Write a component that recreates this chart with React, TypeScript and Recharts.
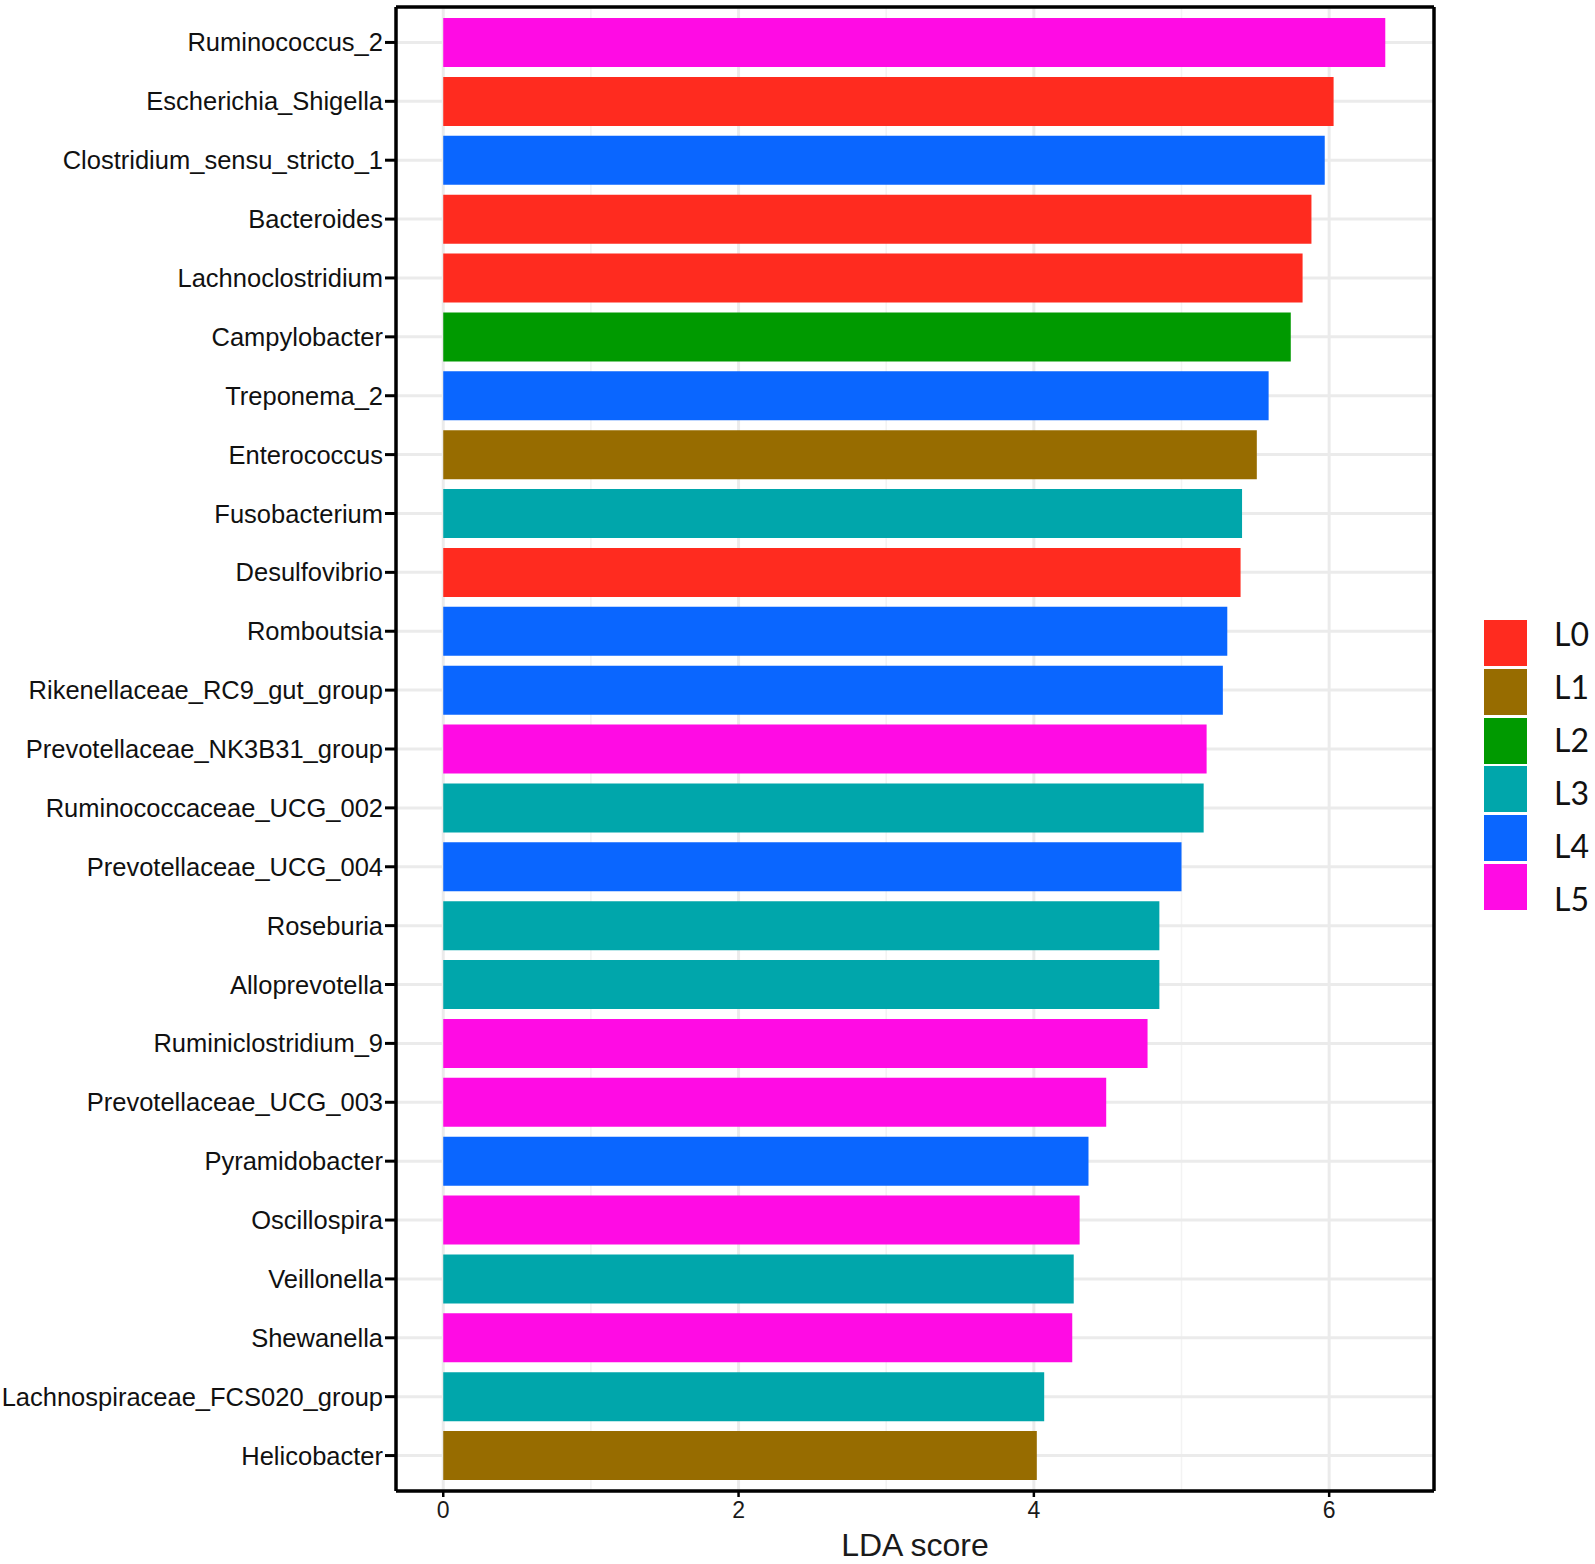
import * as React from 'react';
import { BarChart, Bar, Cell, XAxis, YAxis, CartesianGrid, Legend } from 'recharts';

const genera = [
  'Ruminococcus_2', 'Escherichia_Shigella', 'Clostridium_sensu_stricto_1', 'Bacteroides',
  'Lachnoclostridium', 'Campylobacter', 'Treponema_2', 'Enterococcus', 'Fusobacterium',
  'Desulfovibrio', 'Romboutsia', 'Rikenellaceae_RC9_gut_group', 'Prevotellaceae_NK3B31_group',
  'Ruminococcaceae_UCG_002', 'Prevotellaceae_UCG_004', 'Roseburia', 'Alloprevotella',
  'Ruminiclostridium_9', 'Prevotellaceae_UCG_003', 'Pyramidobacter', 'Oscillospira',
  'Veillonella', 'Shewanella', 'Lachnospiraceae_FCS020_group', 'Helicobacter',
];
const ldaScores = [
  6.38, 6.03, 5.97, 5.88, 5.82, 5.74, 5.59, 5.51, 5.41, 5.40, 5.31, 5.28, 5.17,
  5.15, 5.00, 4.85, 4.85, 4.77, 4.49, 4.37, 4.31, 4.27, 4.26, 4.07, 4.02,
];
const groups = [
  'L5', 'L0', 'L4', 'L0', 'L0', 'L2', 'L4', 'L1', 'L3', 'L0', 'L4', 'L4', 'L5',
  'L3', 'L4', 'L3', 'L3', 'L5', 'L5', 'L4', 'L5', 'L3', 'L5', 'L3', 'L1',
];
const levels = ['L0', 'L1', 'L2', 'L3', 'L4', 'L5'];
const levelColors = ['#FF2B1F', '#976C00', '#009A00', '#00A6AB', '#0A66FF', '#FF0BE4'];
const majorTicks = [0, 2, 4, 6];
const minorTicks = [1, 3, 5];

const colorOf = (g: string) => levelColors[levels.indexOf(g)];

const data = genera.map((name, i) => ({ name, lda: ldaScores[i], group: groups[i] }));

const axisFont = '"Liberation Sans", Arial, sans-serif';

// keys and labels drift apart slightly in the original, so place them separately
const LevelLegend = () => (
  <div style={{ position: 'relative', marginLeft: 49, height: 300, fontFamily: 'Lato, "Open Sans", sans-serif' }}>
    {levels.map((lv, i) => (
      <React.Fragment key={lv}>
        <div
          style={{
            position: 'absolute', left: 0, top: 48.8 * i, width: 43, height: 46, background: levelColors[i],
          }}
        />
        <span
          style={{
            position: 'absolute', left: 70, top: 53 * i - 6, fontSize: 32, lineHeight: '40px', color: '#111',
          }}
        >
          {lv}
        </span>
      </React.Fragment>
    ))}
  </div>
);

export default function App() {
  return (
    <div style={{ position: 'absolute', left: 0, top: 0 }}>
      <BarChart
        width={1595}
        height={1564}
        data={data}
        layout="vertical"
        margin={{ top: 6, right: 0, bottom: 0, left: 0 }}
      >
        <CartesianGrid
          stroke="#F3F3F3"
          strokeWidth={1.5}
          horizontal={false}
          verticalValues={minorTicks}
        />
        <CartesianGrid
          stroke="#EBEBEB"
          strokeWidth={3}
          verticalValues={majorTicks}
        />
        <XAxis
          type="number"
          dataKey="lda"
          domain={[-0.32, 6.71]}
          ticks={majorTicks}
          allowDataOverflow
          height={73}
          axisLine={{ stroke: '#000', strokeWidth: 3.5 }}
          tickLine={{ stroke: '#000', strokeWidth: 2.5 }}
          tickSize={6}
          tickMargin={5}
          tick={{ fontSize: 23, fill: '#1a1a1a', fontFamily: axisFont }}
          label={{
            value: 'LDA score',
            position: 'insideBottom',
            offset: 8,
            style: { fontSize: 32, fill: '#1a1a1a', fontFamily: axisFont },
          }}
        />
        <XAxis
          xAxisId="top"
          orientation="top"
          type="number"
          domain={[0, 1]}
          height={1}
          tick={false}
          tickLine={false}
          axisLine={{ stroke: '#000', strokeWidth: 3.5 }}
        />
        <YAxis
          type="category"
          dataKey="name"
          width={396}
          padding={{ top: 6, bottom: 6 }}
          interval={0}
          axisLine={{ stroke: '#000', strokeWidth: 3.5 }}
          tickLine={{ stroke: '#000', strokeWidth: 3 }}
          tickSize={11}
          tickMargin={2}
          tick={{ fontSize: 25.5, fill: '#111', fontFamily: axisFont }}
        />
        <YAxis
          yAxisId="right"
          orientation="right"
          type="number"
          domain={[0, 1]}
          width={1}
          tick={false}
          tickLine={false}
          axisLine={{ stroke: '#000', strokeWidth: 3.5 }}
        />
        <Legend
          layout="vertical"
          align="right"
          verticalAlign="top"
          content={() => <LevelLegend />}
          wrapperStyle={{ width: 160, top: 620 }}
        />
        <Bar dataKey="lda" barSize={49} isAnimationActive={false}>
          {data.map((d) => (
            <Cell key={d.name} fill={colorOf(d.group)} />
          ))}
        </Bar>
      </BarChart>
    </div>
  );
}
